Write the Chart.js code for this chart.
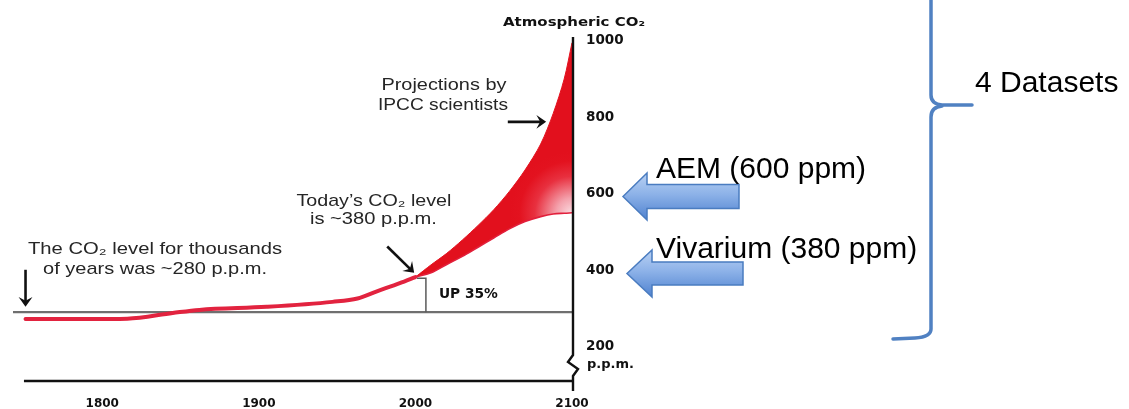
<!DOCTYPE html>
<html><head><meta charset="utf-8">
<script src="https://cdn.jsdelivr.net/npm/chart.js@4/dist/chart.umd.min.js"></script>
<style>html,body{margin:0;padding:0;background:#fff;overflow:hidden}#wrap{width:1129px;height:409px;position:relative}</style>
</head><body><div id="wrap"><canvas id="c" width="1129" height="409"></canvas></div>
<script>
// ---- data ----
const historyYears  = [1751, 1790, 1816, 1845, 1862, 1905, 1947, 1963, 1975, 1990, 2000];
const historyCO2    = [272, 272, 273, 288, 296, 304, 317, 326, 344, 366, 382];
const projYears     = [2000, 2010, 2020, 2030, 2040, 2050, 2060, 2070, 2080, 2088, 2095, 2100];
const projHigh      = [382, 414, 444, 479, 517, 558, 606, 662, 730, 810, 900, 995];
const projLow       = [382, 393, 415, 436, 460, 484, 508, 527, 540, 547, 549, 550];
const baselineYears = [1743, 2100];
const baselineCO2   = [290, 290];
const upYears       = [2001, 2006.7, 2006.7];
const upCO2         = [379, 379, 290];
const xTickValues   = [1800, 1900, 2000, 2100];
const yTickValues   = [200, 400, 600, 800, 1000];
const yTickLabels   = ['200', '400', '600', '800', '1000'];
const axisTitle     = 'Atmospheric CO\u2082';
// notes: [text, year, ppm, width]
const notes = [
  ['The CO\u2082 level for thousands', 1833.7, 442, 254],
  ['of years was ~280 p.p.m.',          1833.7, 391, 224],
  ['Today\u2019s CO\u2082 level',       1973.5, 568, 155],
  ['is ~380 p.p.m.',                    1973.2, 522, 127],
  ['Projections by',                    2018.2, 871, 125],
  ['IPCC scientists',                   2017.6, 819, 130]
];
// arrows: [fromYear, fromPpm, toYear, toPpm]
const noteArrows = [
  [1751, 401, 1751, 304],
  [1982, 462, 1999.2, 393],
  [2059, 788, 2083.5, 788]
];
const upLabel = 'UP 35%';
const sideLabels = ['AEM (600 ppm)', 'Vivarium (380 ppm)', '4 Datasets'];

const pts = (xs, ys) => xs.map((v, i) => ({x: v, y: ys[i]}));

function fitText(ctx, text, x, y, width, align) {
  const w = ctx.measureText(text).width;
  const s = width / w;
  ctx.save();
  ctx.translate(x, y);
  ctx.scale(s, 1);
  ctx.textAlign = align || 'center';
  ctx.fillText(text, 0, 0);
  ctx.restore();
}
function blackArrow(ctx, x1, y1, x2, y2) {
  const ang = Math.atan2(y2 - y1, x2 - x1);
  const L = 12, W = 0.62;
  ctx.beginPath();
  ctx.moveTo(x1, y1);
  ctx.lineTo(x2 - Math.cos(ang) * 5, y2 - Math.sin(ang) * 5);
  ctx.stroke();
  ctx.beginPath();
  ctx.moveTo(x2, y2);
  ctx.lineTo(x2 - L * Math.cos(ang - W), y2 - L * Math.sin(ang - W));
  ctx.lineTo(x2 - 6 * Math.cos(ang), y2 - 6 * Math.sin(ang));
  ctx.lineTo(x2 - L * Math.cos(ang + W), y2 - L * Math.sin(ang + W));
  ctx.closePath();
  ctx.fill();
}
function blueArrow(ctx, tipX, cy, backX, headHalf, shaftHalf, rightX) {
  ctx.save();
  const g = ctx.createLinearGradient(0, cy - headHalf, 0, cy + headHalf);
  g.addColorStop(0, '#b9d1f3');
  g.addColorStop(0.45, '#8db2e8');
  g.addColorStop(1, '#4f82d0');
  ctx.beginPath();
  ctx.moveTo(tipX, cy);
  ctx.lineTo(backX, cy - headHalf);
  ctx.lineTo(backX, cy - shaftHalf);
  ctx.lineTo(rightX, cy - shaftHalf);
  ctx.lineTo(rightX, cy + shaftHalf);
  ctx.lineTo(backX, cy + shaftHalf);
  ctx.lineTo(backX, cy + headHalf);
  ctx.closePath();
  ctx.fillStyle = g;
  ctx.fill();
  ctx.strokeStyle = '#4a7cc0';
  ctx.lineWidth = 1.5;
  ctx.stroke();
  ctx.restore();
}

const deco = {
  id: 'deco',
  afterDatasetsDraw(chart) {
    const {ctx, chartArea: a, scales: {x, y}} = chart;
    const px = v => x.getPixelForValue(v), py = v => y.getPixelForValue(v);
    ctx.save();
    // bottom axis
    ctx.strokeStyle = '#111';
    ctx.lineWidth = 2.6;
    ctx.beginPath();
    ctx.moveTo(px(1750), a.bottom);
    ctx.lineTo(a.right + 2, a.bottom);
    ctx.stroke();
    // vertical axis with break
    const ax = a.right + 1;
    ctx.lineWidth = 2.4;
    ctx.lineJoin = 'miter';
    ctx.beginPath();
    ctx.moveTo(ax, a.top);
    ctx.lineTo(ax, a.bottom - 26);
    ctx.lineTo(ax - 5, a.bottom - 19);
    ctx.lineTo(ax + 5, a.bottom - 12);
    ctx.lineTo(ax, a.bottom - 5);
    ctx.lineTo(ax, a.bottom + 10);
    ctx.stroke();
    // axis title
    ctx.fillStyle = '#111';
    ctx.textBaseline = 'alphabetic';
    ctx.font = 'bold 13px "DejaVu Sans"';
    fitText(ctx, axisTitle, ax + 1, a.top - 11, 142, 'center');
    // p.p.m. under 200
    ctx.font = 'bold 13px "DejaVu Sans"';
    ctx.textAlign = 'left';
    ctx.fillText('p.p.m.', ax + 14, py(200) + 21);
    // UP 35%
    ctx.font = 'bold 13.5px "DejaVu Sans"';
    fitText(ctx, upLabel, px(2015), py(327), 59, 'left');
    // notes
    ctx.fillStyle = '#262626';
    ctx.font = '17px "Liberation Sans", Arial, sans-serif';
    notes.forEach(n => fitText(ctx, n[0], px(n[1]), py(n[2]), n[3], 'center'));
    // black arrows
    ctx.strokeStyle = '#111';
    ctx.fillStyle = '#111';
    ctx.lineWidth = 2.6;
    noteArrows.forEach(r => blackArrow(ctx, px(r[0]), py(r[1]), px(r[2]), py(r[3])));
    // blue arrows
    blueArrow(ctx, 623, 196.5, 647, 23.5, 12, 739);
    blueArrow(ctx, 627, 273.5, 652, 23.5, 11.5, 743);
    // side labels
    ctx.fillStyle = '#000';
    ctx.font = '30px "Liberation Sans", Arial, sans-serif';
    ctx.textAlign = 'left';
    ctx.fillText(sideLabels[0], 656, 178);
    ctx.fillText(sideLabels[1], 656, 258);
    ctx.fillText(sideLabels[2], 975, 92);
    // brace
    ctx.strokeStyle = '#5081c2';
    ctx.lineWidth = 3.5;
    ctx.lineCap = 'round';
    ctx.beginPath();
    ctx.moveTo(931, -3);
    ctx.lineTo(931, 95);
    ctx.quadraticCurveTo(931, 104, 942, 105);
    ctx.lineTo(972, 105);
    ctx.moveTo(942, 106);
    ctx.quadraticCurveTo(931, 107, 931, 117);
    ctx.lineTo(931, 329);
    ctx.quadraticCurveTo(931, 337, 915, 338);
    ctx.lineTo(893, 339);
    ctx.stroke();
    ctx.restore();
  }
};

const fillGrad = (c) => {
  const ch = c.chart;
  const {ctx, chartArea, scales} = ch;
  if (!chartArea || !scales || !scales.x || !scales.y) return '#e3121f';
  const cx = scales.x.getPixelForValue(2100), cy = scales.y.getPixelForValue(548);
  const g = ctx.createRadialGradient(cx, cy, 0, cx, cy, 62);
  g.addColorStop(0, '#fadde2');
  g.addColorStop(0.25, '#f4a2ad');
  g.addColorStop(0.6, '#e8303f');
  g.addColorStop(0.85, '#e3121f');
  g.addColorStop(1, '#e2101d');
  return g;
};

new Chart(document.getElementById('c'), {
  type: 'line',
  data: {
    datasets: [
      {label: 'history', data: pts(historyYears, historyCO2), borderColor: '#e2233f', borderWidth: 4,
       pointRadius: 0, cubicInterpolationMode: 'monotone', fill: false, order: 1, borderCapStyle: 'round'},
      {label: 'high', data: pts(projYears, projHigh), borderColor: '#e3121f', borderWidth: 1,
       pointRadius: 0, tension: 0.3, fill: '+1', backgroundColor: fillGrad, order: 3},
      {label: 'low', data: pts(projYears, projLow), borderColor: '#e2203c', borderWidth: 1.6,
       pointRadius: 0, cubicInterpolationMode: 'monotone', fill: false, order: 2},
      {label: 'baseline', data: pts(baselineYears, baselineCO2), borderColor: '#6f6f6f', borderWidth: 2.2,
       pointRadius: 0, fill: false, order: 5},
      {label: 'up', data: pts(upYears, upCO2), borderColor: '#5a5a5a', borderWidth: 1.5,
       pointRadius: 0, fill: false, tension: 0, order: 4}
    ]
  },
  options: {
    responsive: false,
    animation: false,
    layout: {padding: {left: 13, top: 37, right: 0, bottom: 0}},
    plugins: {legend: {display: false}, tooltip: {enabled: false}, title: {display: false}},
    scales: {
      x: {
        type: 'linear', min: 1743, max: 2100, position: 'bottom',
        grid: {display: false, drawTicks: false}, border: {display: false},
        afterBuildTicks: s => { s.ticks = xTickValues.map(v => ({value: v})); },
        afterFit: s => { s.height = 28; },
        ticks: {padding: 16, maxRotation: 0, autoSkip: false, color: '#111',
                font: {family: '"DejaVu Sans"', size: 12, weight: 'bold'},
                callback: v => String(v)}
      },
      y: {
        type: 'linear', min: 110, max: 1010, position: 'right',
        grid: {display: false, drawTicks: false}, border: {display: false},
        afterBuildTicks: s => { s.ticks = yTickValues.map(v => ({value: v})); },
        afterFit: s => { s.width = 557; },
        ticks: {padding: 14, autoSkip: false, color: '#111',
                font: {family: '"DejaVu Sans"', size: 13.5, weight: 'bold'},
                callback: v => yTickLabels[yTickValues.indexOf(v)]}
      }
    }
  },
  plugins: [deco]
});
</script>
</body></html>
